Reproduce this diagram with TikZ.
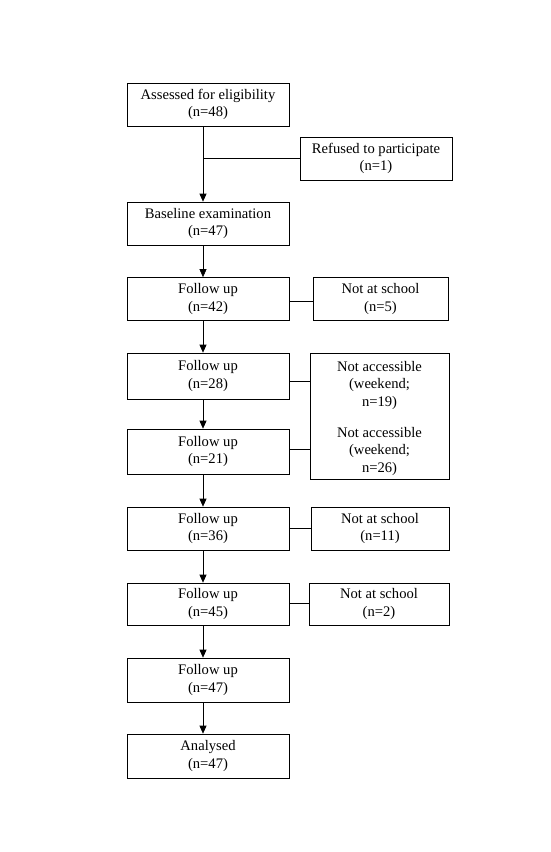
\documentclass[tikz,border=0pt]{standalone}
\usepackage{fontspec}
\setmainfont{Liberation Serif}
\usetikzlibrary{arrows.meta}
\tikzset{
    flowbox/.style={draw, line width=0.7pt, align=center, inner sep=0pt,
        minimum width=162pt, minimum height=43pt,
        font=\fontsize{14.6}{17.5}\selectfont},
    sidebox/.style={flowbox, minimum width=138pt},
    arr/.style={line width=0.7pt, -{Triangle[length=8pt,width=7pt]}},
    link/.style={line width=0.7pt}
}
\begin{document}
\begin{tikzpicture}[x=1pt,y=-1pt]
        \useasboundingbox (0,0) rectangle (550,852);
        % main column
        \node[flowbox] (elig) at (208,104.5) {Assessed for eligibility\\(n=48)};
        \node[flowbox] (base) at (208,223.5) {Baseline examination\\(n=47)};
        \node[flowbox] (fu42) at (208,299) {Follow up\\(n=42)};
        \node[flowbox, minimum height=46pt] (fu28) at (208,376) {Follow up\\(n=28)};
        \node[flowbox, minimum height=45pt] (fu21) at (208,451.5) {Follow up\\(n=21)};
        \node[flowbox] (fu36) at (208,528.5) {Follow up\\(n=36)};
        \node[flowbox, minimum height=42pt] (fu45) at (208,604) {Follow up\\(n=45)};
        \node[flowbox, minimum height=44pt] (fu47) at (208,680) {Follow up\\(n=47)};
        \node[flowbox, minimum height=44pt] (anal) at (208,756) {Analysed\\(n=47)};
        % side boxes
        \node[sidebox, minimum width=152pt] (refused) at (376,158.5) {Refused to participate\\(n=1)};
        \node[sidebox, minimum width=135pt] (nas5) at (380.5,299) {Not at school\\(n=5)};
        \node[sidebox, minimum width=139pt, minimum height=126pt] (acc) at (379.5,416) {};
        \node[font=\fontsize{14.6}{17.5}\selectfont, align=center] (acc19) at (379.5,385) {Not accessible\\(weekend;\\n=19)};
        \node[font=\fontsize{14.6}{17.5}\selectfont, align=center] (acc26) at (379.5,451) {Not accessible\\(weekend;\\n=26)};
        \node[sidebox] (nas11) at (380,528.5) {Not at school\\(n=11)};
        \node[sidebox, minimum width=140pt, minimum height=42pt] (nas2) at (379,604) {Not at school\\(n=2)};
        % arrows down
        \foreach \a/\b in {elig/base, base/fu42, fu42/fu28, fu28/fu21, fu21/fu36, fu36/fu45, fu45/fu47, fu47/anal}{
            \draw[arr] ([xshift=-5pt]\a.south) -- ([xshift=-5pt]\b.north);
        }
        % side links
        \draw[link] ([xshift=-5pt]elig.south |- refused.west) -- (refused.west);
        \draw[link] ([yshift=-2pt]fu42.east) -- ([yshift=-2pt]nas5.west);
        \draw[link] ([yshift=-5pt]fu28.east) -- ([yshift=-5pt]fu28.east -| acc.west);
        \draw[link] ([yshift=2.5pt]fu21.east) -- ([yshift=2.5pt]fu21.east -| acc.west);
        \draw[link] (fu36.east) -- (nas11.west);
        \draw[link] ([yshift=1pt]fu45.east) -- ([yshift=1pt]nas2.west);
    \end{tikzpicture}
\end{document}
